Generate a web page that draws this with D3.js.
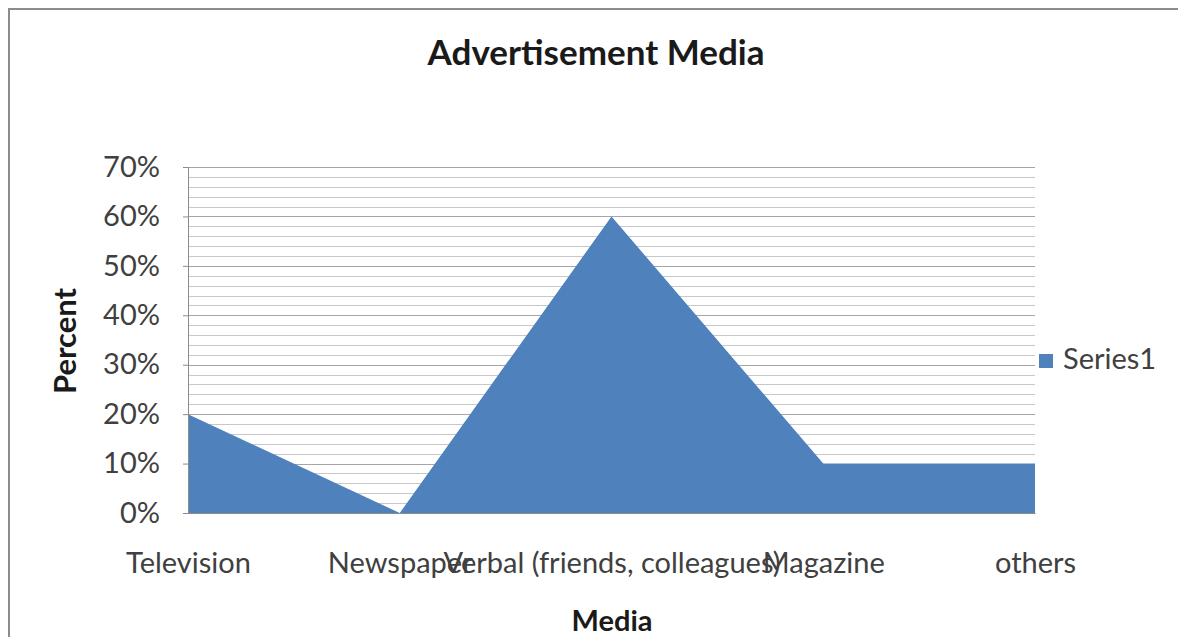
<!DOCTYPE html>
<html>
<head>
<meta charset="utf-8">
<script src="https://cdn.jsdelivr.net/npm/d3@7"></script>
<style>
  html, body { margin: 0; padding: 0; background: #fff; }
  svg { display: block; font-family: Lato, "Open Sans", sans-serif; }
</style>
</head>
<body>
<svg id="chart" width="1178" height="637"></svg>
<script>
// Advertisement media survey results
const categories = ["Television", "Newspaper", "Verbal (friends, colleagues)", "Magazine", "others"];
const series1 = [0.20, 0.00, 0.60, 0.10, 0.10];
const yTicks = [0, 0.1, 0.2, 0.3, 0.4, 0.5, 0.6, 0.7];
const minorTicks = d3.range(0, 0.7001, 0.02);

const svg = d3.select("#chart");
const plot = { left: 188, right: 1035, top: 167, bottom: 513 };

// chart frame
svg.append("path")
  .attr("d", "M9,640 V9 H1190")
  .attr("fill", "none")
  .attr("stroke", "#8c8c8c")
  .attr("stroke-width", 2);

const x = d3.scalePoint().domain(categories).range([plot.left, plot.right]);
const y = d3.scaleLinear().domain([0, 0.7]).range([plot.bottom, plot.top]);

// gridlines: minor every 2%, major every 10%
svg.append("g").selectAll("line")
  .data(minorTicks)
  .join("line")
  .attr("x1", plot.left).attr("x2", plot.right)
  .attr("y1", d => Math.round(y(d)) + 0.5).attr("y2", d => Math.round(y(d)) + 0.5)
  .attr("stroke", (d, i) => i % 5 === 0 ? "#a6a6a6" : "#c8c8c8")
  .attr("stroke-width", 1);

// area
const area = d3.area()
  .x((d, i) => x(categories[i]))
  .y0(y(0))
  .y1(d => y(d));
svg.append("path")
  .datum(series1)
  .attr("d", area)
  .attr("fill", "#4F81BD");

// y axis
const yAxis = d3.axisLeft(y).tickValues(yTicks).tickFormat(d3.format(".0%")).tickSize(5).tickPadding(23);
const yg = svg.append("g").attr("transform", `translate(${plot.left},0)`).call(yAxis);
yg.select(".domain").attr("stroke", "#8c8c8c");
yg.selectAll(".tick line").attr("stroke", "#8c8c8c");
yg.selectAll("text").attr("font-size", 29).attr("fill", "#404040")
  .attr("font-family", "Lato, sans-serif");

// x axis labels
const xAxis = d3.axisBottom(x).tickSize(0).tickPadding(39);
const xg = svg.append("g").attr("transform", `translate(0,${plot.bottom})`).call(xAxis);
xg.select(".domain").attr("stroke", "#8c8c8c");
xg.selectAll("text").attr("font-size", 29).attr("fill", "#404040")
  .attr("font-family", "Lato, sans-serif")
  .attr("dy", 0).attr("dominant-baseline", "alphabetic")
  .attr("y", 60);

// titles
svg.append("text")
  .attr("x", 596).attr("y", 65)
  .attr("text-anchor", "middle")
  .attr("font-size", 35).attr("font-weight", "bold").attr("fill", "#1a1a1a")
  .text("Advertisement Media");

svg.append("text")
  .attr("transform", "translate(76,341) rotate(-90)")
  .attr("text-anchor", "middle")
  .attr("font-size", 31).attr("font-weight", "bold").attr("fill", "#1a1a1a")
  .text("Percent");

svg.append("text")
  .attr("x", 612).attr("y", 631)
  .attr("text-anchor", "middle")
  .attr("font-size", 29).attr("font-weight", "bold").attr("fill", "#1a1a1a")
  .text("Media");

// legend
const legend = svg.append("g").attr("transform", "translate(1039,354)");
legend.append("rect").attr("width", 14).attr("height", 14).attr("fill", "#4F81BD");
legend.append("text").attr("x", 24).attr("y", 15)
  .attr("font-size", 29).attr("fill", "#404040")
  .text("Series1");
</script>
</body>
</html>
